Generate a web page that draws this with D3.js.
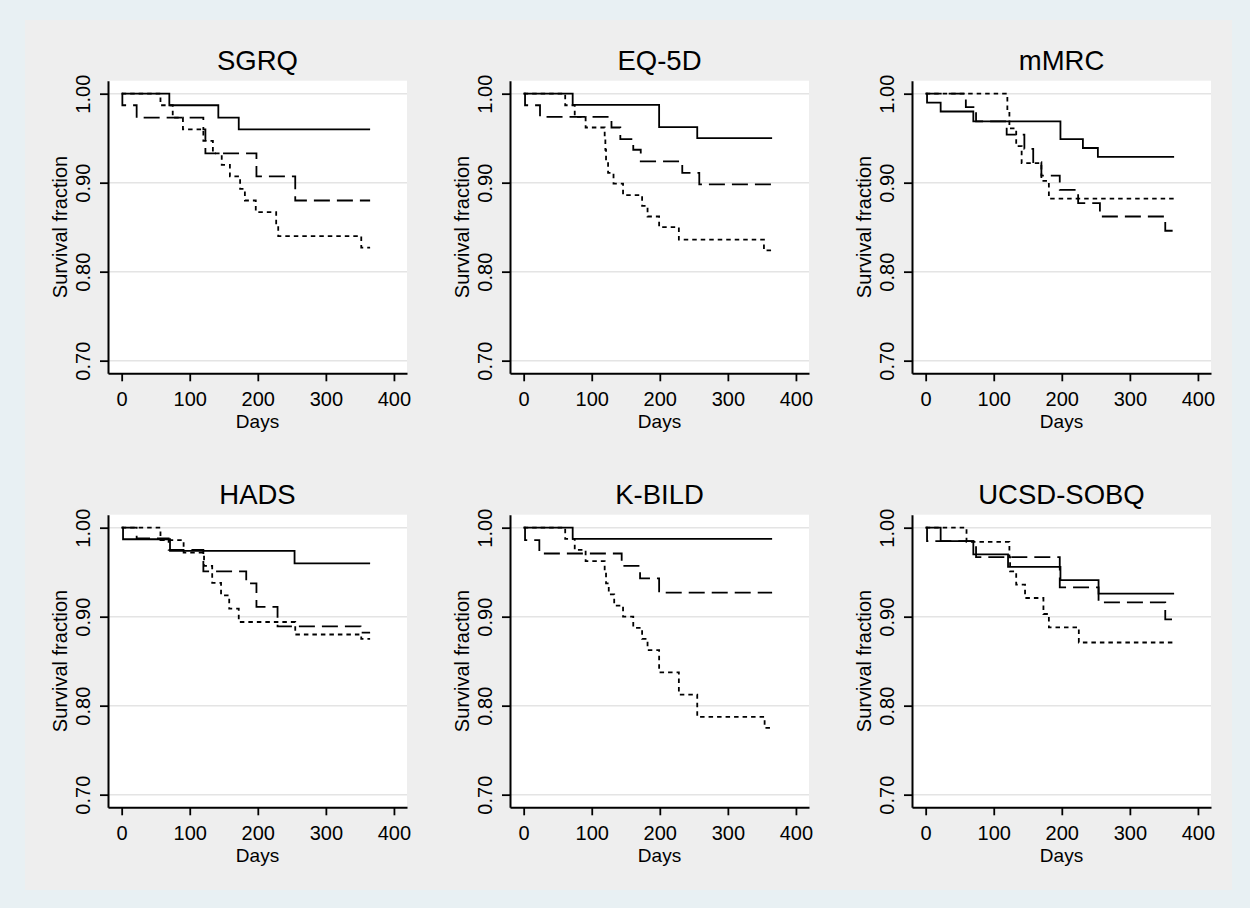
<!DOCTYPE html>
<html><head><meta charset="utf-8">
<script src="https://cdn.jsdelivr.net/npm/d3@7"></script>
<style>
body{margin:0;background:#e8f0f3;}
svg{display:block}
text{font-family:"Liberation Sans",Arial,sans-serif;fill:#000}
</style>
</head><body><svg id="c" width="1250" height="908"></svg>
<script>
// ---- data ----
const titles = ["SGRQ", "EQ-5D", "mMRC", "HADS", "K-BILD", "UCSD-SOBQ"];
const xTicks = [0, 100, 200, 300, 400];
const yTicks = [0.70, 0.80, 0.90, 1.00];
const xLabel = "Days";
const yLabel = "Survival fraction";

// [day, survival] step points
const sgrqSolid  = [[0,1],[70,.987],[142,.973],[172,.960],[365,.960]];
const sgrqDash   = [[0,1],[1,.987],[22,.973],[120,.960],[123,.933],[198,.907],[255,.880],[365,.880]];
const sgrqDot    = [[0,1],[57,.987],[75,.973],[90,.960],[120,.947],[134,.933],[147,.920],[159,.907],[174,.893],[181,.880],[197,.867],[227,.853],[230,.840],[352,.827],[365,.827]];

const eqSolid    = [[0,1],[72,.9875],[199,.9625],[255,.950],[365,.950]];
const eqDash     = [[0,1],[2,.987],[24,.974],[129,.962],[142,.949],[161,.937],[172,.924],[233,.911],[258,.898],[365,.898]];
const eqDot      = [[0,1],[61,.987],[75,.974],[91,.962],[119,.949],[120,.937],[121,.924],[124,.911],[132,.899],[146,.886],[174,.874],[182,.862],[199,.850],[228,.836],[353,.824],[365,.824]];

const mmrcSolid  = [[0,1],[2,.990],[22,.980],[70,.969],[198,.949],[231,.939],[253,.929],[365,.929]];
const mmrcDash   = [[0,1],[59,.985],[74,.969],[119,.954],[145,.938],[158,.923],[170,.908],[197,.892],[224,.877],[256,.862],[352,.846],[365,.846]];
const mmrcDot    = [[0,1],[120,.980],[123,.961],[133,.941],[141,.922],[170,.902],[181,.882],[365,.882]];

const hadsSolid  = [[0,1],[2,.987],[71,.974],[254,.960],[365,.960]];
const hadsDash   = [[0,1],[22,.988],[69,.975],[120,.951],[183,.9375],[198,.911],[229,.889],[351,.882],[365,.882]];
const hadsDot    = [[0,1],[57,.986],[91,.972],[121,.957],[133,.938],[146,.924],[158,.909],[172,.894],[255,.880],[352,.875],[365,.875]];

const kbildSolid = [[0,1],[72,.9875],[365,.9875]];
const kbildDash  = [[0,1],[2,.986],[23,.971],[144,.957],[171,.943],[199,.927],[365,.927]];
const kbildDot   = [[0,1],[61,.9875],[75,.975],[91,.9625],[119,.95],[121,.9375],[125,.925],[133,.9125],[146,.90],[161,.8875],[174,.875],[182,.8625],[199,.8375],[228,.8125],[255,.7875],[354,.775],[365,.775]];

const ucsdSolid  = [[0,1],[22,.985],[70,.970],[121,.956],[198,.941],[254,.926],[365,.926]];
const ucsdDash   = [[0,1],[2,.985],[74,.967],[197,.933],[254,.916],[352,.897],[365,.897]];
const ucsdDot    = [[0,1],[60,.984],[123,.967],[124,.951],[133,.936],[146,.921],[173,.903],[181,.888],[225,.871],[365,.871]];

const panelSeries = [
  [sgrqSolid, sgrqDash, sgrqDot],
  [eqSolid, eqDash, eqDot],
  [mmrcSolid, mmrcDash, mmrcDot],
  [hadsSolid, hadsDash, hadsDot],
  [kbildSolid, kbildDash, kbildDot],
  [ucsdSolid, ucsdDash, ucsdDot]
];
const dashes = [null, "16,7", "4.5,4"];

// ---- layout ----
const svg = d3.select("#c");
svg.append("rect").attr("width",1250).attr("height",908).attr("fill","#e8f0f3");
svg.append("rect").attr("x",25).attr("y",20).attr("width",1207).attr("height",870).attr("fill","#eeeeee");

const W = 299, H = 292.6;
const colL = [108, 510, 912];
const rowT = [80.7, 514.7];

const x = d3.scaleLinear().domain([-20.1, 419.2]).range([0, W]);
const y = d3.scaleLinear().domain([0.6858, 1.0146]).range([H, 0]);
const line = d3.line().x(d => x(d[0])).y(d => y(d[1])).curve(d3.curveStepAfter);

titles.forEach((t, i) => {
  const L = colL[i % 3], T = rowT[Math.floor(i / 3)];
  const g = svg.append("g").attr("transform", `translate(${L},${T})`);
  g.append("rect").attr("width", W).attr("height", H).attr("fill", "#fff");

  g.selectAll(".grid").data(yTicks).enter().append("line")
    .attr("x1", 0).attr("x2", W)
    .attr("y1", d => y(d)).attr("y2", d => y(d))
    .attr("stroke", "#e4e4e4").attr("stroke-width", 1.5);

  panelSeries[i].forEach((s, k) => {
    g.append("path").datum(s).attr("d", line)
      .attr("fill", "none").attr("stroke", "#000").attr("stroke-width", 1.8)
      .attr("stroke-dasharray", dashes[k]);
  });

  const ya = g.append("g").call(d3.axisLeft(y).tickValues(yTicks).tickFormat(d3.format(".2f")).tickSize(8).tickSizeOuter(0));
  ya.select(".domain").attr("stroke", "#000").attr("stroke-width", 2);
  ya.selectAll(".tick line").attr("stroke", "#000").attr("stroke-width", 1.8);
  ya.selectAll(".tick text").attr("transform", "rotate(-90)").attr("x", 0).attr("y", -18)
    .attr("dy", 0).attr("text-anchor", "middle").style("font-size", "20px")
    .style("font-family", '"Liberation Sans",Arial,sans-serif').attr("fill", "#000");

  const xa = g.append("g").attr("transform", `translate(0,${H})`)
    .call(d3.axisBottom(x).tickValues(xTicks).tickFormat(d3.format("d")).tickSize(8).tickSizeOuter(0));
  xa.select(".domain").attr("stroke", "#000").attr("stroke-width", 2);
  xa.selectAll(".tick line").attr("stroke", "#000").attr("stroke-width", 1.8);
  xa.selectAll(".tick text").attr("y", 32.5).attr("dy", 0).style("font-size", "20px")
    .style("font-family", '"Liberation Sans",Arial,sans-serif').attr("fill", "#000");

  g.append("text").attr("x", W / 2).attr("y", H + 54.5).attr("text-anchor", "middle")
    .style("font-size", "19px").text(xLabel);
  g.append("text").attr("transform", `translate(-41,${H / 2}) rotate(-90)`).attr("text-anchor", "middle")
    .style("font-size", "20px").text(yLabel);
  g.append("text").attr("x", W / 2).attr("y", -10.7).attr("text-anchor", "middle")
    .style("font-size", "27.5px").text(t);
});
</script>
</body></html>
